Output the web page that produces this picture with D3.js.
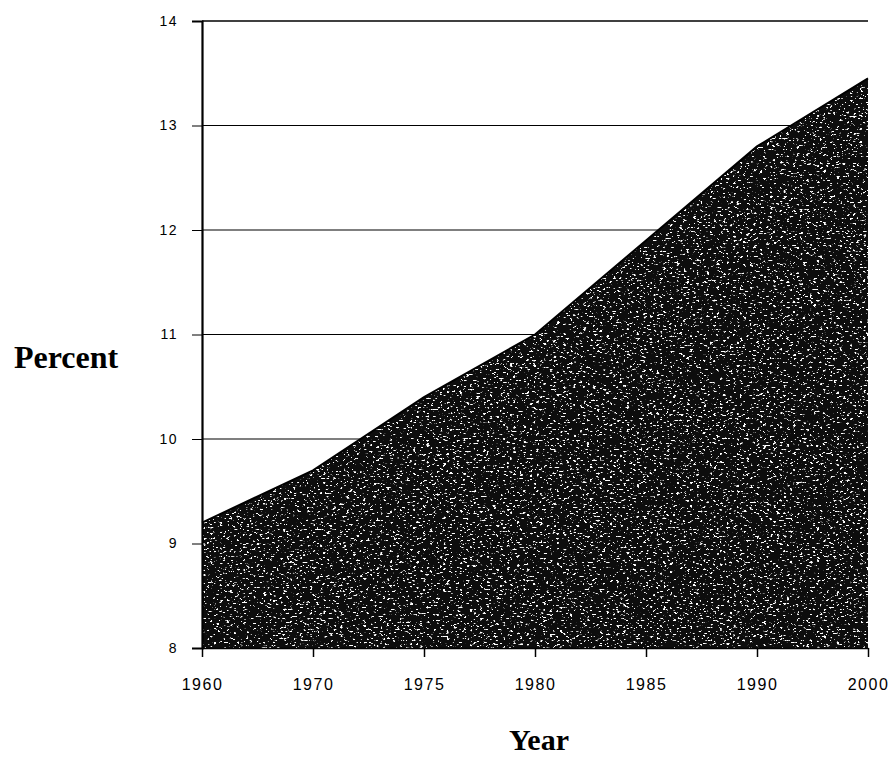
<!DOCTYPE html>
<html>
<head>
<meta charset="utf-8">
<script src="https://cdn.jsdelivr.net/npm/d3@7"></script>
<style>
  body { margin: 0; background: #fff; }
  .tick text { font-family: "Liberation Sans", "DejaVu Sans", sans-serif; font-size: 16px; letter-spacing: 1.5px; }
  .title { font-family: "Liberation Serif", "DejaVu Serif", serif; font-weight: bold; }
</style>
</head>
<body>
<svg id="chart"></svg>
<script>
const years = ["1960", "1970", "1975", "1980", "1985", "1990", "2000"];
const percent = [9.2, 9.7, 10.4, 11.0, 11.9, 12.8, 13.45];
const yTicks = [8, 9, 10, 11, 12, 13, 14];

const width = 891;
const height = 759;
const margin = { top: 21, right: 23, bottom: 111, left: 202 };

const svg = d3.select("#chart").attr("width", width).attr("height", height);

const x = d3.scalePoint().domain(years).range([margin.left, width - margin.right]);
const y = d3.scaleLinear().domain([8, 14]).range([height - margin.bottom, margin.top]);

// speckle texture for the dark area
const defs = svg.append("defs");
const f = defs.append("filter").attr("id", "speckle")
    .attr("x", 0).attr("y", 0).attr("width", 1).attr("height", 1);
f.append("feTurbulence").attr("type", "fractalNoise").attr("baseFrequency", "0.3 0.55")
    .attr("numOctaves", 2).attr("seed", 7).attr("result", "noise");
f.append("feColorMatrix").attr("in", "noise").attr("type", "matrix")
    .attr("values", "0 0 0 0 1  0 0 0 0 1  0 0 0 0 1  14 0 0 0 -8.7").attr("result", "dots");
f.append("feComposite").attr("in", "dots").attr("in2", "SourceGraphic").attr("operator", "in");

// gridlines
svg.selectAll(".grid")
    .data(yTicks.slice(1))
    .enter()
    .append("line")
    .attr("class", "grid")
    .attr("x1", margin.left).attr("x2", width - margin.right)
    .attr("y1", d => y(d)).attr("y2", d => y(d))
    .attr("stroke", "#000")
    .attr("stroke-width", d => d === 14 ? 1.6 : 1.2);

const pts = years.map((yr, i) => ({ year: yr, value: percent[i] }));

const area = d3.area()
    .x(d => x(d.year))
    .y0(y(8))
    .y1(d => y(d.value));

svg.append("path").datum(pts).attr("d", area).attr("fill", "#0d0d0d");
svg.append("path").datum(pts).attr("d", area).attr("fill", "#fff").attr("filter", "url(#speckle)");
svg.append("path").datum(pts)
    .attr("d", d3.line().x(d => x(d.year)).y(d => y(d.value)))
    .attr("fill", "none").attr("stroke", "#000").attr("stroke-width", 2);

// axes
const yAxis = svg.append("g")
    .attr("transform", `translate(${margin.left},0)`)
    .call(d3.axisLeft(y).tickValues(yTicks).tickFormat(d3.format("d")).tickSize(10).tickPadding(14));
yAxis.select(".domain").attr("stroke-width", 2.2);
yAxis.selectAll(".tick text").style("font-size", "14px");

const xAxis = svg.append("g")
    .attr("transform", `translate(0,${y(8)})`)
    .call(d3.axisBottom(x).tickSize(9).tickSizeOuter(0).tickPadding(22));
xAxis.select(".domain").attr("stroke-width", 1.5);
xAxis.selectAll(".tick line").attr("stroke-width", 1.5);

svg.append("text").attr("class", "title")
    .attr("x", 66).attr("y", 368)
    .attr("text-anchor", "middle")
    .attr("font-size", 32)
    .text("Percent");

svg.append("text").attr("class", "title")
    .attr("x", 539).attr("y", 750)
    .attr("text-anchor", "middle")
    .attr("font-size", 30)
    .text("Year");
</script>
</body>
</html>
